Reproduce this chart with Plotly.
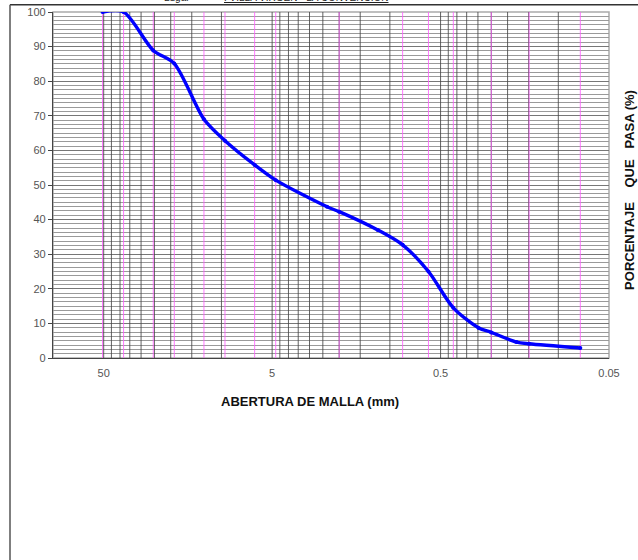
import plotly.graph_objects as go

# ---- data ----
abertura_mm = [50.8, 38.1, 25.4, 19.05, 12.7, 9.525, 6.35, 4.76, 2.36, 2.0, 1.18,
               0.84, 0.59, 0.42, 0.297, 0.25, 0.177, 0.149, 0.074]
pasa_pct = [100, 100, 88.9, 85.1, 69.0, 62.8, 55.8, 51.4, 43.7, 42.3, 37.0,
            32.7, 25.0, 14.5, 8.7, 7.4, 4.6, 4.1, 2.9]

tamices_mm = [50.8, 38.1, 25.4, 19.05, 12.7, 9.525, 6.35, 4.76, 2.0, 0.84, 0.59,
              0.42, 0.25, 0.149, 0.074]

x_ticks = [50, 5, 0.5, 0.05]
x_ticktext = ["50", "5", "0.5", "0.05"]
x_grid = [45, 40, 35, 30, 25, 20, 15, 10,
          4.5, 4, 3.5, 3, 2.5, 2, 1.5, 1,
          0.45, 0.4, 0.35, 0.3, 0.25, 0.2, 0.15, 0.1]
y_ticks = [0, 10, 20, 30, 40, 50, 60, 70, 80, 90, 100]

# ---- layout geometry (pixels) ----
W, H = 638, 560
L, R, T, B = 53, 609, 11.7, 358.5


def px(xp):
    return (xp - L) / (R - L)


def py(yp):
    return (B - yp) / (B - T)


def vlines(vals):
    xs, ys = [], []
    for d in vals:
        xs += [d, d, None]
        ys += [0, 100, None]
    return xs, ys


fig = go.Figure()

# dark vertical grid (log multiples + majors)
gx, gy = vlines(x_grid + x_ticks[:-1])
fig.add_trace(go.Scatter(x=gx, y=gy, mode="lines",
                         line=dict(color="rgba(70,70,70,0.85)", width=1),
                         hoverinfo="skip", showlegend=False))

# sieve lines (magenta)
sx, sy = vlines(tamices_mm)
fig.add_trace(go.Scatter(x=sx, y=sy, mode="lines",
                         line=dict(color="rgba(255,90,255,0.8)", width=1),
                         hoverinfo="skip", showlegend=False))

# grading curve
fig.add_trace(go.Scatter(x=abertura_mm, y=pasa_pct, mode="lines+markers",
                         line=dict(color="#0000FF", width=3.4, shape="spline", smoothing=0.8),
                         marker=dict(color="#0000FF", size=4),
                         showlegend=False))

fig.update_xaxes(type="log", range=[2, -1.30103], tickmode="array",
                 tickvals=x_ticks, ticktext=x_ticktext,
                 showgrid=False,
                 showline=True, linecolor="#444444", linewidth=1.2,
                 ticks="", tickfont=dict(family="Liberation Sans", size=11, color="#555555"),
                 ticklabelstandoff=5, zeroline=False, automargin=False)

fig.update_yaxes(range=[0, 100], tickmode="array", tickvals=y_ticks,
                 showgrid=True, gridcolor="#777777", gridwidth=1,
                 minor=dict(dtick=1.25, showgrid=True, gridcolor="#9a9a9a", gridwidth=1),
                 showline=True, linecolor="#444444", linewidth=1.2,
                 ticks="outside", ticklen=4, tickcolor="#444444",
                 tickfont=dict(family="Liberation Sans", size=11, color="#555555"),
                 zeroline=False, automargin=False)

shapes = [
    # plot area light border (top/right)
    dict(type="rect", xref="paper", yref="paper", x0=0, x1=1, y0=0, y1=1,
         line=dict(color="#aaaaaa", width=1.5), layer="below"),
    # outer frame: top line and left line
    dict(type="line", xref="paper", yref="paper", x0=px(10), x1=px(W + 5),
         y0=py(4.5), y1=py(4.5), line=dict(color="#333333", width=1.5)),
    dict(type="line", xref="paper", yref="paper", x0=px(10), x1=px(10),
         y0=py(4.5), y1=py(H + 5), line=dict(color="#555555", width=1.5)),
]

annotations = [
    dict(text="Lugar", xref="paper", yref="paper", x=px(177), y=py(-3),
         xanchor="center", yanchor="middle",
         showarrow=False, font=dict(family="Liberation Sans", size=10, color="#222222")),
    dict(text="<u>: VILLA VIRGEN - LA CONVENCION</u>", xref="paper", yref="paper",
         x=px(222), y=py(-3), xanchor="left", yanchor="middle", showarrow=False,
         font=dict(family="Liberation Sans", size=10, color="#222222")),
    dict(text="<b>ABERTURA DE MALLA (mm)</b>", xref="paper", yref="paper",
         x=px(310), y=py(402), xanchor="center", yanchor="middle", showarrow=False,
         font=dict(family="Liberation Sans", size=13, color="#111111")),
    dict(text="<b>PORCENTAJE    QUE   PASA (%)</b>", xref="paper", yref="paper",
         x=px(630), y=py(190), xanchor="center", yanchor="middle",
         showarrow=False, textangle=-90,
         font=dict(family="Liberation Sans", size=13, color="#111111")),
]

fig.update_layout(width=W, height=H,
                  margin=dict(l=L, r=W - R, t=T, b=H - B, autoexpand=False),
                  paper_bgcolor="white", plot_bgcolor="white",
                  shapes=shapes, annotations=annotations, showlegend=False)

fig.write_html("out.html", config={"displayModeBar": False},
               post_script="document.body.style.margin='0';"
                           "document.body.style.overflow='hidden';")
